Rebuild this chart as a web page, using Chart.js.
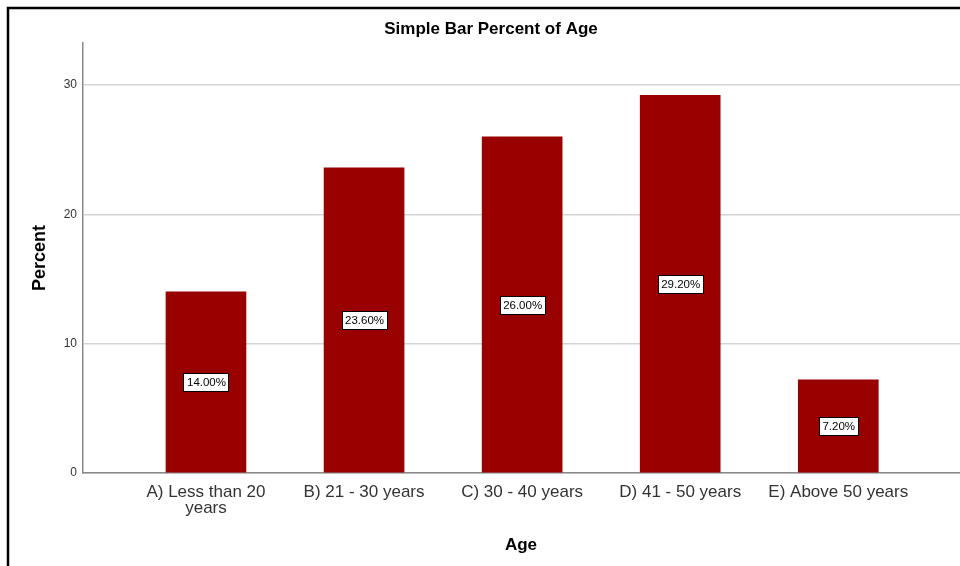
<!DOCTYPE html>
<html>
<head>
<meta charset="utf-8">
<script src="https://cdn.jsdelivr.net/npm/chart.js@4"></script>
<style>
  html, body { margin: 0; padding: 0; background: #fff; overflow: hidden; }
  #wrap { position: relative; width: 960px; height: 566px; }
  canvas { display: block; }
</style>
</head>
<body>
<div id="wrap"><canvas id="chart" width="960" height="566"></canvas></div>
<script>
// Age groups and the share of respondents in each
const categories = [
  ["A) Less than 20", "years"],
  "B) 21 - 30 years",
  "C) 30 - 40 years",
  "D) 41 - 50 years",
  "E) Above 50 years"
];
const percentValues = [14.0, 23.6, 26.0, 29.2, 7.2];
const yTickValues = [0, 10, 20, 30];

const chartTitle = "Simple Bar Percent of Age";
const xTitle = "Age";
const yTitle = "Percent";

const FONT = "Arial, 'Liberation Sans', sans-serif";

// Frame, titles and in-bar value boxes
const decorations = {
  id: 'decorations',
  beforeDraw(chart) {
    const ctx = chart.ctx;
    ctx.save();
    ctx.fillStyle = '#ffffff';
    ctx.fillRect(0, 0, chart.width, chart.height);
    ctx.strokeStyle = '#000000';
    ctx.lineWidth = 2.5;
    ctx.beginPath();
    ctx.moveTo(8, chart.height + 2);
    ctx.lineTo(8, 8);
    ctx.lineTo(chart.width + 2, 8);
    ctx.stroke();
    ctx.restore();
  },
  afterDraw(chart) {
    const ctx = chart.ctx;
    const area = chart.chartArea;
    ctx.save();
    ctx.fillStyle = '#000000';
    ctx.textAlign = 'center';
    ctx.textBaseline = 'middle';
    ctx.font = "bold 17px " + FONT;
    ctx.fillText(chartTitle, 491, 29);
    ctx.font = "bold 17px " + FONT;
    ctx.fillText(xTitle, 521, 545);
    ctx.save();
    ctx.translate(40, (area.top + area.bottom) / 2);
    ctx.rotate(-Math.PI / 2);
    ctx.font = "bold 18px " + FONT;
    ctx.fillText(yTitle, 0, 0);
    ctx.restore();

    // value boxes centred in each bar
    const meta = chart.getDatasetMeta(0);
    ctx.font = "11.5px " + FONT;
    meta.data.forEach((bar, i) => {
      const txt = percentValues[i].toFixed(2) + "%";
      const cy = (bar.y + bar.base) / 2;
      const w = Math.round(ctx.measureText(txt).width + 6);
      const h = 18;
      const bx = Math.round(bar.x - w / 2);
      const by = Math.round(cy - h / 2);
      ctx.fillStyle = '#ffffff';
      ctx.fillRect(bx, by, w, h);
      ctx.strokeStyle = '#000000';
      ctx.lineWidth = 1;
      ctx.strokeRect(bx + 0.5, by + 0.5, w, h);
      ctx.fillStyle = '#000000';
      ctx.fillText(txt, bar.x + 0.5, cy + 1);
    });
    ctx.restore();
  }
};

new Chart(document.getElementById('chart'), {
  type: 'bar',
  data: {
    datasets: [{
      data: percentValues.map((v, i) => ({ x: i, y: v })),
      backgroundColor: '#990000',
      borderWidth: 0,
      barThickness: 80
    }]
  },
  options: {
    responsive: false,
    animation: false,
    events: [],
    layout: { padding: { top: 43, right: 0, bottom: 0, left: 0 } },
    plugins: {
      legend: { display: false },
      tooltip: { enabled: false },
      title: { display: false }
    },
    scales: {
      x: {
        type: 'linear',
        min: -0.778,
        max: 4.77,
        offset: false,
        afterFit(scale) { scale.height = 93; },
        afterBuildTicks(scale) {
          scale.ticks = categories.map((_, i) => ({ value: i }));
        },
        ticks: {
          autoSkip: false,
          maxRotation: 0,
          padding: 11,
          color: '#333333',
          font: { family: FONT, size: 17, lineHeight: 0.95 },
          callback: (v) => categories[v]
        },
        grid: { display: false, drawTicks: false },
        border: { display: true, color: '#8a8a8a', width: 1.5 }
      },
      y: {
        min: 0,
        max: 33.25,
        afterFit(scale) { scale.width = 83; },
        afterBuildTicks(scale) {
          scale.ticks = yTickValues.map(v => ({ value: v }));
        },
        ticks: {
          padding: 6,
          color: '#333333',
          font: { family: FONT, size: 12 }
        },
        grid: { color: '#d4d4d4', lineWidth: 1.5, drawTicks: false },
        border: { display: true, color: '#8a8a8a', width: 1.5 }
      }
    }
  },
  plugins: [decorations]
});
</script>
</body>
</html>
